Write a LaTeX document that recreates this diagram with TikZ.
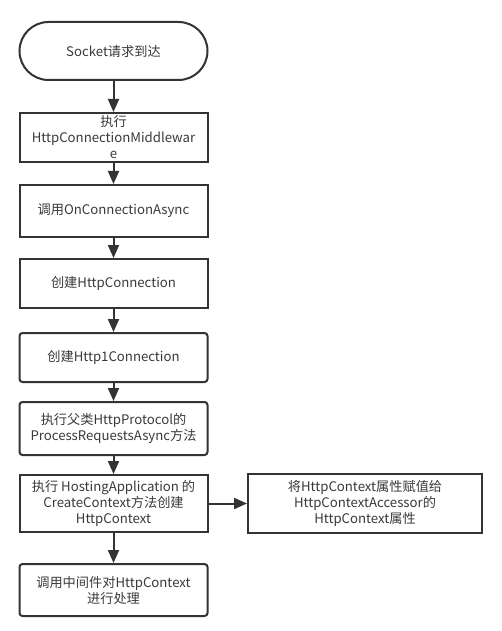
\documentclass[tikz,border=0pt]{standalone}
\usepackage{fontspec}
\setmainfont{Noto Sans CJK SC}
\usetikzlibrary{arrows.meta}
\definecolor{ln}{HTML}{333333}
\definecolor{tx}{HTML}{3A3A3A}
\begin{document}
\begin{tikzpicture}[x=1pt,y=-1pt,
  box/.style={draw=ln,line width=2pt,minimum width=188pt,inner sep=0pt,align=center,
    text=tx,font=\fontsize{13.2}{16}\selectfont},
  rbox/.style={box,rounded corners=3pt},
  arr/.style={draw=ln,line width=2pt,-{Triangle[length=13pt,width=11pt]}}]
\useasboundingbox (0,0) rectangle (501,631);
\fill[white] (0,0) rectangle (501,631);
\node[box,rounded corners=29pt,minimum height=58pt] (t) at (113.5,51) {Socket请求到达};
\node[box,minimum height=49pt] (b2) at (113.5,137.5) {执行\\HttpConnectionMiddlewar\\e};
\node[box,minimum height=52pt] (b3) at (113.5,211) {调用OnConnectionAsync};
\node[box,minimum height=49pt] (b4) at (113.5,283.5) {创建HttpConnection};
\node[rbox,minimum height=49pt] (b5) at (113.5,357.5) {创建Http1Connection};
\node[rbox,minimum height=53pt] (b6) at (113.5,428.5) {执行父类HttpProtocol的\\ProcessRequestsAsync方法};
\node[box,minimum height=57pt] (b7) at (113.5,503.5) {执行 HostingApplication 的\\CreateContext方法创建\\HttpContext};
\node[rbox,minimum height=52pt] (b8) at (113.5,590) {调用中间件对HttpContext\\进行处理};
\node[box,minimum width=234pt,minimum height=59pt] (r) at (365,503.5) {将HttpContext属性赋值给\\HttpContextAccessor的\\HttpContext属性};
\draw[arr] (t) -- (b2);
\draw[arr] (b2) -- (b3);
\draw[arr] (b3) -- (b4);
\draw[arr] (b4) -- (b5);
\draw[arr] (b5) -- (b6);
\draw[arr] (b6) -- (b7);
\draw[arr] (b7) -- (b8);
\draw[arr] (b7) -- (r);
\end{tikzpicture}
\end{document}
